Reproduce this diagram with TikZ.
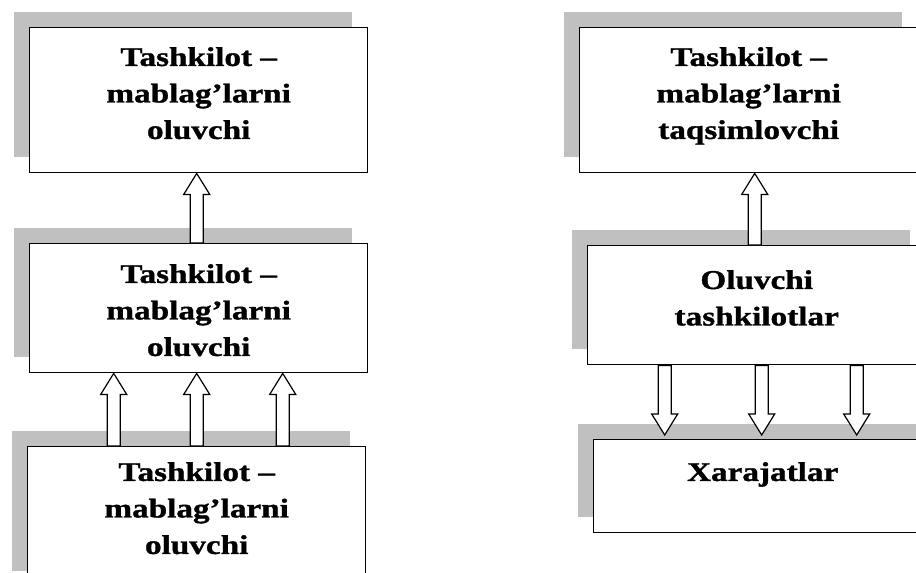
\documentclass[tikz,border=0pt]{standalone}
\usepackage{fontspec}
\setmainfont[FakeStretch=1.23, BoldFeatures={FakeBold=1.2}]{Liberation Serif}
\usetikzlibrary{calc,shadows}

\definecolor{shadowgray}{RGB}{192,192,192}

\tikzset{
  boxframe/.style={draw=black, line width=1.4pt, fill=white,
    minimum width=338pt, inner sep=0pt, anchor=north west,
    drop shadow={shadow xshift=-16pt, shadow yshift=16pt,
      fill=shadowgray, opacity=1}},
  boxtext/.style={anchor=north, align=center, inner sep=0pt,
    font=\fontsize{27}{36.5}\selectfont\bfseries},
  blockarrow/.style={draw=black, line width=1.2pt, fill=white, line join=miter},
}

% hollow block arrow from #1 (tail) to #2 (tip)
\newcommand{\blockarrow}[2]{%
  \path (#1) coordinate (ba-s) (#2) coordinate (ba-t)
        ($(ba-t)!21pt!(ba-s)$) coordinate (ba-h);
  \draw[blockarrow]
    ($(ba-s)!6.5pt!90:(ba-t)$) -- ($(ba-h)!6.5pt!90:(ba-t)$)
    -- ($(ba-h)!13pt!90:(ba-t)$) -- (ba-t)
    -- ($(ba-h)!13pt!-90:(ba-t)$) -- ($(ba-h)!6.5pt!-90:(ba-t)$)
    -- ($(ba-s)!6.5pt!-90:(ba-t)$) -- cycle;
}

\begin{document}
\begin{tikzpicture}[x=1pt, y=-1pt]
  \fill[white] (0,0) rectangle (916,573);
  \clip (0,0) rectangle (916,573);

  % left column
  \node[boxframe, minimum height=145pt] (b1) at (29,27) {};
  \node[boxframe, minimum height=129pt] (b2) at (29,243) {};
  \node[boxframe, minimum height=140pt] (b3) at (27,446) {};

  % right column
  \node[boxframe, minimum height=145pt] (ba) at (579,27) {};
  \node[boxframe, minimum height=119pt] (bb) at (587,245) {};
  \node[boxframe, minimum height=93pt]  (bc) at (593,439) {};

  % box captions
  \node[boxtext] (t1) at ($(b1.north)+(0,20)$) {Tashkilot –\\mablag’larni\\oluvchi};
  \node[boxtext] (t2) at ($(b2.north)+(0,21)$) {Tashkilot –\\mablag’larni\\oluvchi};
  \node[boxtext] (t3) at ($(b3.north)+(0,16)$) {Tashkilot –\\mablag’larni\\oluvchi};
  \node[boxtext] (ta) at ($(ba.north)+(0,20)$) {Tashkilot –\\mablag’larni\\taqsimlovchi};
  \node[boxtext] (tb) at ($(bb.north)+(0,25)$) {Oluvchi\\tashkilotlar};
  \node[boxtext] (tc) at ($(bc.north)+(0,23)$) {Xarajatlar};

  % left column arrows (upwards)
  \coordinate (l0) at ([xshift=-2pt]b1.south);
  \blockarrow{l0 |- b2.north}{l0}
  \coordinate (l1) at ([xshift=-85pt]b2.south);
  \coordinate (l2) at ([xshift=-2pt]b2.south);
  \coordinate (l3) at ([xshift=84pt]b2.south);
  \blockarrow{l1 |- b3.north}{l1}
  \blockarrow{l2 |- b3.north}{l2}
  \blockarrow{l3 |- b3.north}{l3}

  % right column arrows
  \coordinate (r0) at ([xshift=6pt]ba.south);
  \blockarrow{r0 |- bb.north}{r0}
  \coordinate (r1) at ([xshift=-98pt, yshift=4pt]bc.north);
  \coordinate (r2) at ([xshift=-1pt, yshift=4pt]bc.north);
  \coordinate (r3) at ([xshift=94pt, yshift=4pt]bc.north);
  \blockarrow{r1 |- bb.south}{r1}
  \blockarrow{r2 |- bb.south}{r2}
  \blockarrow{r3 |- bb.south}{r3}
\end{tikzpicture}
\end{document}
